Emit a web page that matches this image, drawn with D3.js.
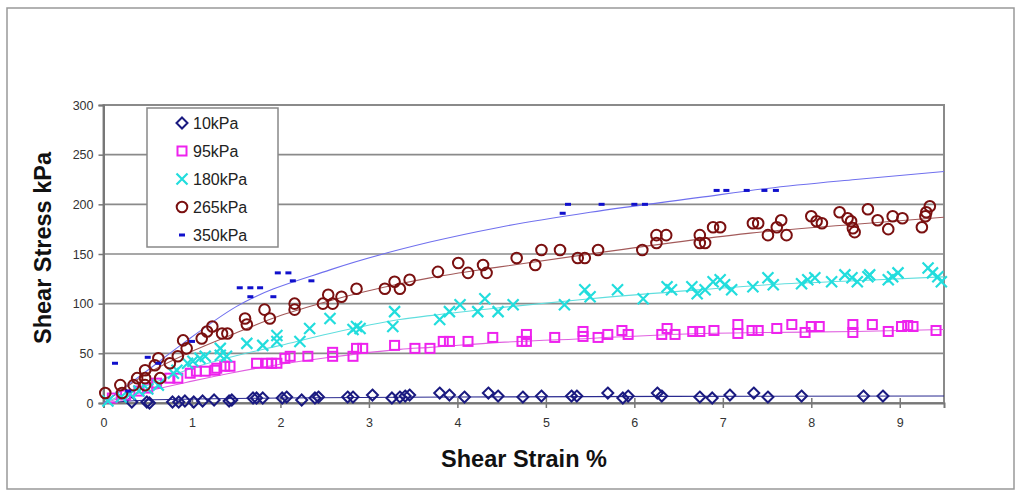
<!DOCTYPE html>
<html>
<head>
<meta charset="utf-8">
<script src="https://cdn.jsdelivr.net/npm/d3@7"></script>
<style>
  body { margin: 0; background: #fff; }
  text { font-family: "Liberation Sans", Arial, sans-serif; }
</style>
</head>
<body>
<div id="chart"></div>
<script>
// series values: [strain %, stress kPa]
const s10 = [[0.32,1],[0.49,1],[0.52,0],[0.78,1],[0.85,1],[0.92,2],[1.02,1],[1.12,2],[1.25,3],[1.42,2],[1.45,3],
  [1.69,5],[1.73,5],[1.80,5],[2.02,5],[2.07,6],[2.24,3],[2.39,5],[2.43,6],[2.76,6],[2.82,6],[3.04,8],[3.26,5],
  [3.35,6],[3.41,7],[3.46,8],[3.80,10],[3.91,8],[4.08,6],[4.35,10],[4.46,7],[4.74,6],[4.95,7],[5.29,7],[5.35,7],
  [5.70,10],[5.87,5],[5.93,7],[6.26,10],[6.31,7],[6.74,6],[6.88,5],[7.08,8],[7.35,10],[7.51,6],[7.89,7],[8.59,7],[8.81,7]];
const s95 = [[0.1,5],[0.25,8],[0.4,12],[0.5,15],[0.6,20],[0.75,25],[0.84,25],[0.98,30],[1.05,32],[1.15,32],[1.26,33],
  [1.28,35],[1.37,37],[1.43,37],[1.73,40],[1.85,40],[1.9,40],[1.96,40],[2.05,45],[2.11,47],[2.31,47],[2.59,47],
  [2.59,51],[2.82,47],[2.86,55],[2.93,55],[3.29,58],[3.52,55],[3.69,55],[3.84,62],[3.91,62],[4.12,62],[4.40,66],
  [4.73,62],[4.78,69],[4.78,62],[5.10,66],[5.42,72],[5.42,67],[5.59,66],[5.70,69],[5.86,73],[5.93,69],[6.31,69],
  [6.37,75],[6.46,69],[6.66,72],[6.74,72],[6.90,73],[7.17,79],[7.17,70],[7.33,73],[7.40,73],[7.61,75],[7.78,79],
  [7.93,71],[8.0,77],[8.09,77],[8.47,79],[8.47,71],[8.69,79],[8.87,72],[9.02,77],[9.09,78],[9.15,77],[9.41,73]];
const s180 = [[0.05,2],[0.2,6],[0.3,9],[0.4,12],[0.5,14],[0.62,18],[0.79,30],[0.83,33],[0.95,40],[1.01,42],[1.09,45],
  [1.15,47],[1.32,55],[1.32,48],[1.39,47],[1.62,60],[1.80,58],[1.96,68],[1.96,62],[2.22,62],[2.33,75],[2.56,85],
  [2.82,74],[2.86,77],[2.90,75],[3.27,77],[3.29,92],[3.80,84],[3.91,92],[4.03,99],[4.23,92],[4.31,105],[4.46,92],
  [4.63,99],[5.21,99],[5.44,114],[5.50,107],[5.81,114],[6.10,105],[6.37,117],[6.42,114],[6.65,117],[6.71,110],
  [6.80,114],[6.89,122],[6.97,124],[7.02,119],[7.10,114],[7.34,117],[7.51,126],[7.57,119],[7.89,120],[7.96,124],
  [8.04,126],[8.23,122],[8.38,129],[8.46,126],[8.52,122],[8.64,127],[8.66,129],[8.87,124],[8.92,127],[8.98,131],
  [9.32,136],[9.37,131],[9.43,127],[9.47,122]];
const s265 = [[0.02,10],[0.19,18],[0.21,10],[0.34,18],[0.38,25],[0.47,18],[0.47,25],[0.47,33],[0.58,38],[0.62,45],
  [0.64,25],[0.75,40],[0.84,47],[0.90,63],[0.94,55],[1.11,65],[1.17,72],[1.23,77],[1.34,70],[1.40,70],[1.60,85],
  [1.62,79],[1.82,94],[1.88,85],[2.16,100],[2.16,94],[2.48,100],[2.54,109],[2.59,100],[2.69,107],[2.86,115],
  [3.18,115],[3.29,122],[3.35,115],[3.46,124],[3.78,132],[4.01,141],[4.12,131],[4.29,139],[4.33,131],[4.67,146],
  [4.88,139],[4.95,154],[5.16,154],[5.36,146],[5.44,146],[5.59,154],[6.09,154],[6.25,169],[6.25,161],[6.36,169],
  [6.74,169],[6.74,161],[6.80,161],[6.89,177],[6.97,177],[7.34,181],[7.40,181],[7.51,169],[7.61,177],[7.66,184],
  [7.72,169],[8.0,188],[8.06,183],[8.12,181],[8.32,192],[8.41,186],[8.45,183],[8.47,176],[8.49,172],[8.64,195],
  [8.75,184],[8.87,175],[8.92,188],[9.03,186],[9.25,177],[9.29,188],[9.30,192],[9.34,198]];
const s350 = [[0.13,40],[0.28,12],[0.5,46],[0.62,40],[1.0,62],[1.54,116],[1.66,116],[1.77,116],[1.66,107],[1.92,107],
  [1.97,131],[2.09,131],[2.14,123],[2.35,123],[5.19,191],[5.25,200],[5.63,200],[6.0,200],[6.12,200],
  [6.93,214],[7.04,214],[7.27,214],[7.47,214],[7.6,214]];

// trend lines
const t10 = [[0,0],[0.5,3],[1,4],[2,5],[4,6],[9.5,7]];
const t95 = [[0,0],[0.5,12],[1,22],[1.43,30],[2,39],[2.56,46],[3.35,54],[3.69,56],[4.48,61],[5.5,65],[6.74,70],[7.5,71],[8.5,72],[9.5,74]];
const t180 = [[0,0],[0.5,18],[1,35],[1.43,46],[2,58],[2.56,70],[3.35,84],[3.69,88],[4.48,96],[5.5,105],[6.74,114],[7.5,119],[8.5,123],[9.5,127]];
const t265 = [[0,0],[0.5,30],[1,52],[1.43,68],[2,88],[2.56,103],[3.35,120],[3.69,126],[4.48,137],[5.5,150],[6.74,165],[7.31,171],[8.5,180],[9.5,187]];
const t350 = [[0,0],[0.5,33],[0.9,60],[1.5,97],[2.56,134],[3.69,162],[4.48,177],[5.5,192],[6.74,207],[7.5,216],[8.5,225],[9.5,233]];

const seriesNames = ["10kPa", "95kPa", "180kPa", "265kPa", "350kPa"];
const xTicks = [0,1,2,3,4,5,6,7,8,9];
const yTicks = [0,50,100,150,200,250,300];

const width = 1020, height = 492;
const margin = {top: 105, right: 76, bottom: 89, left: 103.5};

const svg = d3.select("#chart").append("svg")
    .attr("width", width)
    .attr("height", height);

// outer frame
svg.append("rect")
    .attr("x", 7).attr("y", 8)
    .attr("width", 1007).attr("height", 481)
    .attr("fill", "none")
    .attr("stroke", "#999")
    .attr("stroke-width", 1.5);

const x = d3.scaleLinear().domain([0, 9.5]).range([margin.left, width - margin.right]);
const y = d3.scaleLinear().domain([0, 300]).range([height - margin.bottom, margin.top]);

// grid lines
svg.append("g")
    .selectAll("line")
    .data(yTicks.slice(1))
    .enter().append("line")
    .attr("x1", x(0)).attr("x2", x(9.5))
    .attr("y1", d => y(d)).attr("y2", d => y(d))
    .attr("stroke", "#8a8a8a")
    .attr("stroke-width", 1.6);

// plot border
svg.append("rect")
    .attr("x", x(0)).attr("y", y(300))
    .attr("width", x(9.5) - x(0)).attr("height", y(0) - y(300))
    .attr("fill", "none")
    .attr("stroke", "#8a8a8a")
    .attr("stroke-width", 2);

// axes
let xAxis = svg.append("g")
    .attr("transform", "translate(0," + y(0) + ")")
    .call(d3.axisBottom(x).tickValues(xTicks).tickSize(5).tickPadding(10));
let yAxis = svg.append("g")
    .attr("transform", "translate(" + x(0) + ",0)")
    .call(d3.axisLeft(y).tickValues(yTicks).tickSize(5).tickPadding(5));
[xAxis, yAxis].forEach(a => {
    a.select(".domain").attr("stroke", "#777").attr("stroke-width", 2);
    a.selectAll(".tick line").attr("stroke", "#777").attr("stroke-width", 1.5);
    a.selectAll(".tick text").attr("fill", "#333").attr("font-size", "12.5px")
        .attr("font-family", "Liberation Sans, Arial, sans-serif");
});
// inside ticks on x axis too
xAxis.selectAll(".tick").append("line")
    .attr("y2", -5).attr("stroke", "#777").attr("stroke-width", 1.5);

// trend lines
const line = d3.line().x(d => x(d[0])).y(d => y(d[1])).curve(d3.curveMonotoneX);
const trends = [
    {data: t10, color: "#2a2a90"},
    {data: t95, color: "#e060e0"},
    {data: t180, color: "#60dede"},
    {data: t265, color: "#a35a5a"},
    {data: t350, color: "#7070ee"}
];
trends.forEach(t => {
    svg.append("path")
        .datum(t.data)
        .attr("d", line)
        .attr("fill", "none")
        .attr("stroke", t.color)
        .attr("stroke-width", 1.1);
});

// marker drawers
function diamond(g, color) {
    g.append("path").attr("d", "M0,-5.5L5.5,0L0,5.5L-5.5,0Z")
        .attr("fill", "none").attr("stroke", color).attr("stroke-width", 2);
}
function square(g, color) {
    g.append("rect").attr("x", -4.5).attr("y", -4.5).attr("width", 9).attr("height", 9)
        .attr("fill", "none").attr("stroke", color).attr("stroke-width", 2);
}
function cross(g, color) {
    g.append("path").attr("d", "M-5.5,-5.5L5.5,5.5M-5.5,5.5L5.5,-5.5")
        .attr("fill", "none").attr("stroke", color).attr("stroke-width", 2.2);
}
function circle(g, color) {
    g.append("circle").attr("r", 5.3)
        .attr("fill", "none").attr("stroke", color).attr("stroke-width", 2);
}
function dash(g, color) {
    g.append("rect").attr("x", -3).attr("y", -1.5).attr("width", 6).attr("height", 3)
        .attr("fill", color);
}

const series = [
    {data: s10, draw: diamond, color: "#1a1a80"},
    {data: s95, draw: square, color: "#ee22ee"},
    {data: s180, draw: cross, color: "#22dddd"},
    {data: s265, draw: circle, color: "#7a1010"},
    {data: s350, draw: dash, color: "#1010cc"}
];

series.forEach(s => {
    svg.append("g")
        .selectAll("g")
        .data(s.data)
        .enter().append("g")
        .attr("transform", d => "translate(" + x(d[0]) + "," + y(d[1]) + ")")
        .each(function() { s.draw(d3.select(this), s.color); });
});

// legend
const legend = svg.append("g").attr("transform", "translate(147,108)");
legend.append("rect")
    .attr("width", 131).attr("height", 139)
    .attr("fill", "#fff")
    .attr("stroke", "#888")
    .attr("stroke-width", 1.5);
seriesNames.forEach((name, i) => {
    let row = legend.append("g").attr("transform", "translate(35," + (15 + i * 28) + ")");
    series[i].draw(row, series[i].color);
    row.append("text")
        .attr("x", 11).attr("y", 5.5)
        .attr("font-size", "16px")
        .attr("fill", "#222")
        .text(name);
});

// axis titles
svg.append("text")
    .attr("x", 524).attr("y", 467)
    .attr("text-anchor", "middle")
    .attr("font-size", "23.5px")
    .attr("font-weight", "bold")
    .attr("fill", "#111")
    .text("Shear Strain %");
svg.append("text")
    .attr("transform", "translate(51,248) rotate(-90)")
    .attr("text-anchor", "middle")
    .attr("font-size", "23.5px")
    .attr("font-weight", "bold")
    .attr("fill", "#111")
    .text("Shear Stress kPa");
</script>
</body>
</html>
